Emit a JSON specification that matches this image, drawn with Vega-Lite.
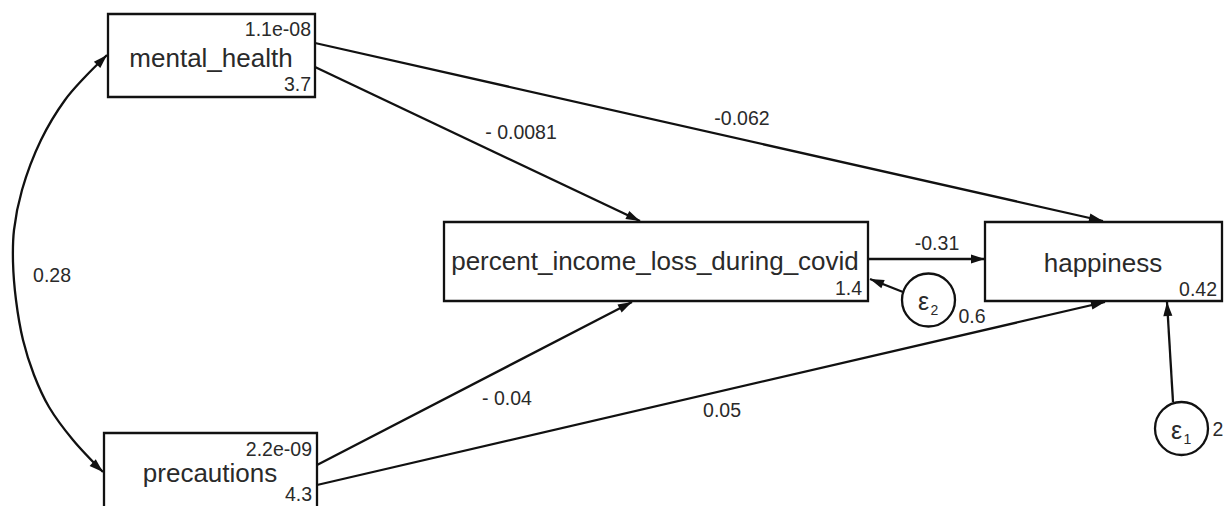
{
  "$schema": "https://vega.github.io/schema/vega-lite/v6.json",
  "width": 1229,
  "height": 506,
  "autosize": "none",
  "padding": 0,
  "background": "white",
  "config": {"view": {"stroke": null}, "font": "Liberation Sans"},
  "datasets": {
    "nodes": [
      {"name": "mental_health", "bx1": 108, "bx2": 315, "by1": 14, "by2": 97, "lx": 211, "ly": 67},
      {"name": "precautions", "bx1": 104, "bx2": 317, "by1": 433, "by2": 516, "lx": 210, "ly": 482},
      {"name": "percent_income_loss_during_covid", "bx1": 444, "bx2": 868, "by1": 222, "by2": 301, "lx": 655, "ly": 270},
      {"name": "happiness", "bx1": 985, "bx2": 1222, "by1": 222, "by2": 301, "lx": 1103, "ly": 272}
    ],
    "nums": [
      {"t": "1.1e-08", "x": 311, "y": 36},
      {"t": "3.7", "x": 311, "y": 91},
      {"t": "2.2e-09", "x": 312, "y": 456},
      {"t": "4.3", "x": 312, "y": 501},
      {"t": "1.4", "x": 862, "y": 295},
      {"t": "0.42", "x": 1217, "y": 296}
    ],
    "edges": [
      {"from": "mental_health", "to": "percent_income_loss_during_covid", "x0": 315, "y0": 67, "x1": 640, "y1": 221},
      {"from": "mental_health", "to": "happiness", "x0": 315, "y0": 43, "x1": 1103, "y1": 221},
      {"from": "precautions", "to": "percent_income_loss_during_covid", "x0": 317, "y0": 465, "x1": 632, "y1": 302},
      {"from": "precautions", "to": "happiness", "x0": 317, "y0": 485, "x1": 1105, "y1": 302},
      {"from": "percent_income_loss_during_covid", "to": "happiness", "x0": 868, "y0": 259, "x1": 985, "y1": 259},
      {"from": "e2", "to": "percent_income_loss_during_covid", "x0": 903, "y0": 292, "x1": 870, "y1": 279},
      {"from": "e1", "to": "happiness", "x0": 1173, "y0": 402, "x1": 1167, "y1": 302}
    ],
    "arc": [
      {"i": 1, "x": 107, "y": 55},
      {"i": 2, "x": 84, "y": 78},
      {"i": 3, "x": 65, "y": 100},
      {"i": 4, "x": 41, "y": 140},
      {"i": 5, "x": 22, "y": 190},
      {"i": 6, "x": 14, "y": 230},
      {"i": 7, "x": 13, "y": 262},
      {"i": 8, "x": 16, "y": 300},
      {"i": 9, "x": 23, "y": 340},
      {"i": 10, "x": 34, "y": 375},
      {"i": 11, "x": 49, "y": 407},
      {"i": 12, "x": 73, "y": 440},
      {"i": 13, "x": 103, "y": 472}
    ],
    "archeads": [
      {"x0": 84, "y0": 78, "x1": 107, "y1": 55},
      {"x0": 79, "y0": 450, "x1": 103, "y1": 472}
    ],
    "errs": [
      {"name": "e1", "sub": "1", "cx": 1181.5, "cy": 428.5},
      {"name": "e2", "sub": "2", "cx": 928.5, "cy": 300}
    ],
    "coefs": [
      {"t": "- 0.0081", "x": 521, "y": 139},
      {"t": "-0.062", "x": 742, "y": 125},
      {"t": "- 0.04", "x": 507, "y": 405},
      {"t": "0.05", "x": 722, "y": 417},
      {"t": "-0.31", "x": 937, "y": 250},
      {"t": "0.28", "x": 52, "y": 282},
      {"t": "0.6", "x": 972, "y": 323},
      {"t": "2", "x": 1218, "y": 436}
    ]
  },
  "layer": [
    {
      "data": {"name": "nodes"},
      "mark": {"type": "rect", "fill": "white", "stroke": "#111", "strokeWidth": 2.3},
      "encoding": {
        "x": {"field": "bx1", "type": "quantitative", "scale": {"domain": [0, 1229], "nice": false, "zero": false}, "axis": null},
        "x2": {"field": "bx2"},
        "y": {"field": "by1", "type": "quantitative", "scale": {"domain": [0, 506], "nice": false, "zero": false, "reverse": true}, "axis": null},
        "y2": {"field": "by2"}
      }
    },
    {
      "data": {"name": "arc"},
      "mark": {"type": "line", "interpolate": "catmull-rom", "color": "#111", "strokeWidth": 2.3},
      "encoding": {
        "x": {"field": "x", "type": "quantitative", "scale": {"domain": [0, 1229], "nice": false, "zero": false}, "axis": null},
        "y": {"field": "y", "type": "quantitative", "scale": {"domain": [0, 506], "nice": false, "zero": false, "reverse": true}, "axis": null},
        "order": {"field": "i", "type": "quantitative"}
      }
    },
    {
      "data": {"name": "edges"},
      "mark": {"type": "rule", "color": "#111", "strokeWidth": 2.3},
      "encoding": {
        "x": {"field": "x0", "type": "quantitative", "scale": {"domain": [0, 1229], "nice": false, "zero": false}, "axis": null},
        "x2": {"field": "x1"},
        "y": {"field": "y0", "type": "quantitative", "scale": {"domain": [0, 506], "nice": false, "zero": false, "reverse": true}, "axis": null},
        "y2": {"field": "y1"}
      }
    },
    {
      "data": {"name": "edges"},
      "mark": {"type": "point", "shape": "M0,0 L0.65,2 L-0.65,2 Z", "size": 196, "filled": true, "color": "#111", "opacity": 1, "strokeWidth": 0,
        "angle": {"expr": "atan2(datum.y1 - datum.y0, datum.x1 - datum.x0) * 180 / PI + 90"}},
      "encoding": {
        "x": {"field": "x1", "type": "quantitative", "scale": {"domain": [0, 1229], "nice": false, "zero": false}, "axis": null},
        "y": {"field": "y1", "type": "quantitative", "scale": {"domain": [0, 506], "nice": false, "zero": false, "reverse": true}, "axis": null}
      }
    },
    {
      "data": {"name": "archeads"},
      "mark": {"type": "point", "shape": "M0,0 L0.65,2 L-0.65,2 Z", "size": 196, "filled": true, "color": "#111", "opacity": 1, "strokeWidth": 0,
        "angle": {"expr": "atan2(datum.y1 - datum.y0, datum.x1 - datum.x0) * 180 / PI + 90"}},
      "encoding": {
        "x": {"field": "x1", "type": "quantitative", "scale": {"domain": [0, 1229], "nice": false, "zero": false}, "axis": null},
        "y": {"field": "y1", "type": "quantitative", "scale": {"domain": [0, 506], "nice": false, "zero": false, "reverse": true}, "axis": null}
      }
    },
    {
      "data": {"name": "errs"},
      "mark": {"type": "point", "shape": "circle", "size": 2809, "filled": true, "fill": "white", "stroke": "#111", "strokeWidth": 2.3, "opacity": 1},
      "encoding": {
        "x": {"field": "cx", "type": "quantitative", "scale": {"domain": [0, 1229], "nice": false, "zero": false}, "axis": null},
        "y": {"field": "cy", "type": "quantitative", "scale": {"domain": [0, 506], "nice": false, "zero": false, "reverse": true}, "axis": null}
      }
    },
    {
      "data": {"name": "errs"},
      "mark": {"type": "text", "text": "ε", "fontSize": 25, "align": "center", "baseline": "alphabetic", "dx": -5, "dy": 10, "color": "#2a2a2a"},
      "encoding": {
        "x": {"field": "cx", "type": "quantitative", "scale": {"domain": [0, 1229], "nice": false, "zero": false}, "axis": null},
        "y": {"field": "cy", "type": "quantitative", "scale": {"domain": [0, 506], "nice": false, "zero": false, "reverse": true}, "axis": null}
      }
    },
    {
      "data": {"name": "errs"},
      "mark": {"type": "text", "fontSize": 14, "align": "left", "baseline": "alphabetic", "dx": 2, "dy": 15, "color": "#2a2a2a"},
      "encoding": {
        "x": {"field": "cx", "type": "quantitative", "scale": {"domain": [0, 1229], "nice": false, "zero": false}, "axis": null},
        "y": {"field": "cy", "type": "quantitative", "scale": {"domain": [0, 506], "nice": false, "zero": false, "reverse": true}, "axis": null},
        "text": {"field": "sub"}
      }
    },
    {
      "data": {"name": "nodes"},
      "mark": {"type": "text", "fontSize": 26, "align": "center", "baseline": "alphabetic", "color": "#2a2a2a"},
      "encoding": {
        "x": {"field": "lx", "type": "quantitative", "scale": {"domain": [0, 1229], "nice": false, "zero": false}, "axis": null},
        "y": {"field": "ly", "type": "quantitative", "scale": {"domain": [0, 506], "nice": false, "zero": false, "reverse": true}, "axis": null},
        "text": {"field": "name"}
      }
    },
    {
      "data": {"name": "nums"},
      "mark": {"type": "text", "fontSize": 19.5, "align": "right", "baseline": "alphabetic", "color": "#2a2a2a"},
      "encoding": {
        "x": {"field": "x", "type": "quantitative", "scale": {"domain": [0, 1229], "nice": false, "zero": false}, "axis": null},
        "y": {"field": "y", "type": "quantitative", "scale": {"domain": [0, 506], "nice": false, "zero": false, "reverse": true}, "axis": null},
        "text": {"field": "t"}
      }
    },
    {
      "data": {"name": "coefs"},
      "mark": {"type": "text", "fontSize": 19.5, "align": "center", "baseline": "alphabetic", "color": "#2a2a2a"},
      "encoding": {
        "x": {"field": "x", "type": "quantitative", "scale": {"domain": [0, 1229], "nice": false, "zero": false}, "axis": null},
        "y": {"field": "y", "type": "quantitative", "scale": {"domain": [0, 506], "nice": false, "zero": false, "reverse": true}, "axis": null},
        "text": {"field": "t"}
      }
    }
  ]
}
